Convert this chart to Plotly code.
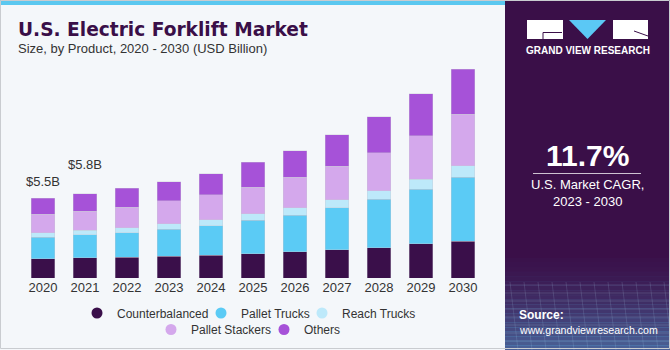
import plotly.graph_objects as go

years = [2020, 2021, 2022, 2023, 2024, 2025, 2026, 2027, 2028, 2029, 2030]
year_labels = [str(y) for y in years]
counterbalanced = [1.34, 1.41, 1.44, 1.51, 1.58, 1.67, 1.81, 1.95, 2.08, 2.36, 2.52]
pallet_trucks   = [1.48, 1.55, 1.69, 1.83, 2.03, 2.29, 2.52, 2.87, 3.35, 3.76, 4.40]
reach_trucks    = [0.31, 0.32, 0.34, 0.39, 0.39, 0.46, 0.52, 0.57, 0.57, 0.69, 0.80]
pallet_stackers = [1.25, 1.31, 1.40, 1.58, 1.72, 1.84, 2.09, 2.29, 2.61, 2.98, 3.55]
others          = [1.12, 1.21, 1.31, 1.33, 1.46, 1.72, 1.83, 2.18, 2.47, 2.89, 3.11]
series_names = ["Counterbalanced", "Pallet Trucks", "Reach Trucks", "Pallet Stackers", "Others"]
series_colors = ["#3A0F4A", "#5BCBF5", "#BDE9FA", "#D4A8EC", "#A652D8"]
value_labels = ["$5.5B", "$5.8B"]
label_heights = [6.63, 7.8]
cagr_text = "11.7%"

W, H = 670, 350
L, R, T, B = 22, 186, 60, 72
PW = W - L - R
PH = H - T - B


def px(x):
    return (x - L) / PW


def py(y):
    return (H - B - y) / PH


def cx(x):
    return x / W


def cy(y):
    return 1 - y / H


fig = go.Figure()
series = [counterbalanced, pallet_trucks, reach_trucks, pallet_stackers, others]
for name, vals, col in zip(series_names, series, series_colors):
    fig.add_trace(go.Bar(
        x=years, y=vals, name=name, marker=dict(color=col, line=dict(color="rgba(200,200,210,0.6)", width=0.6)),
        width=0.57, showlegend=False, hoverinfo="x+y+name"))

# legend entries: one small legend per item, placed where the reference shows them
legend_text_x = [113, 237, 338, 187, 300]
legend_row_y = [313, 313, 313, 329.5, 329.5]
legend_layouts = {}
for i, (name, col) in enumerate(zip(series_names, series_colors)):
    key = "legend" if i == 0 else f"legend{i + 1}"
    fig.add_trace(go.Scatter(
        x=[None], y=[None], mode="markers", name=name,
        marker=dict(color=col, size=11, symbol="circle"), legend=key))
    legend_layouts[key] = dict(
        orientation="h", xref="container", yref="container",
        x=cx(legend_text_x[i] + 4 - 40), xanchor="left", y=cy(legend_row_y[i]), yanchor="middle",
        bgcolor="rgba(0,0,0,0)", font=dict(size=12, color="#333333"), itemwidth=30)

shapes = []
# right panel
shapes.append(dict(type="rect", xref="paper", yref="paper", x0=px(505), x1=px(670), y0=py(350), y1=py(0),
                   fillcolor="#3A0F48", line=dict(width=0), layer="below"))
# gradient at bottom of panel
n = 20
for k in range(n):
    y0 = 258 + k * (92 / n)
    y1 = y0 + 92 / n + 0.5
    a = 0.02 + 0.45 * (k / (n - 1)) ** 1.4
    shapes.append(dict(type="rect", xref="paper", yref="paper", x0=px(505), x1=px(670), y0=py(y1), y1=py(y0),
                       fillcolor=f"rgba(91,190,240,{a:.3f})", line=dict(width=0), layer="below"))
# faint grid lines in bottom area
for k in range(8):
    yy = 285 + k * 8
    shapes.append(dict(type="line", xref="paper", yref="paper", x0=px(505), x1=px(670), y0=py(yy), y1=py(yy),
                       line=dict(color="rgba(180,220,250,0.18)", width=1), layer="below"))
for k in range(12):
    xx = 510 + k * 14
    shapes.append(dict(type="line", xref="paper", yref="paper", x0=px(xx), x1=px(xx + 8), y0=py(282), y1=py(350),
                       line=dict(color="rgba(180,220,250,0.15)", width=1), layer="below"))
# top blue strip
shapes.append(dict(type="rect", xref="paper", yref="paper", x0=px(0), x1=px(505), y0=py(5), y1=py(0),
                   fillcolor="#5BC8F0", line=dict(width=0), layer="below"))
# border
shapes.append(dict(type="rect", xref="paper", yref="paper", x0=px(0.5), x1=px(669.5), y0=py(348.5), y1=py(0.5),
                   line=dict(color="#C9CCD0", width=1), layer="above"))
# logo
shapes.append(dict(type="rect", xref="paper", yref="paper", x0=px(527), x1=px(563), y0=py(39), y1=py(20),
                   fillcolor="white", line=dict(width=0)))
shapes.append(dict(type="path", xref="paper", yref="paper",
                   path=f"M {px(543)} {py(39)} L {px(543)} {py(32.5)} L {px(562)} {py(32.5)}",
                   line=dict(color="#3A0F48", width=1)))
shapes.append(dict(type="path", xref="paper", yref="paper",
                   path=f"M {px(569)} {py(20)} L {px(606)} {py(20)} L {px(587.5)} {py(39)} Z",
                   fillcolor="#5BC8F5", line=dict(width=0)))
shapes.append(dict(type="rect", xref="paper", yref="paper", x0=px(613), x1=px(648), y0=py(39), y1=py(20),
                   fillcolor="white", line=dict(width=0)))
shapes.append(dict(type="line", xref="paper", yref="paper", x0=px(634), x1=px(648), y0=py(31), y1=py(36),
                   line=dict(color="#3A0F48", width=1)))
# line under CAGR
shapes.append(dict(type="line", xref="paper", yref="paper", x0=px(533), x1=px(641), y0=py(173.5), y1=py(173.5),
                   line=dict(color="rgba(255,255,255,0.75)", width=1)))

ann = []
ann.append(dict(text="<b>U.S. Electric Forklift Market</b>", x=px(16), y=py(29), xref="paper", yref="paper",
                xanchor="left", yanchor="middle", showarrow=False,
                font=dict(family="DejaVu Sans", size=18.6, color="#3A0F48")))
ann.append(dict(text="Size, by Product, 2020 - 2030 (USD Billion)", x=px(16), y=py(48.5), xref="paper", yref="paper",
                xanchor="left", yanchor="middle", showarrow=False,
                font=dict(family="Liberation Sans, Arial", size=13, color="#333333")))
for yr, txt, h in zip(years[:2], value_labels, label_heights):
    ann.append(dict(text=txt, x=yr, y=h, xref="x", yref="y", xanchor="center", yanchor="middle", showarrow=False,
                    font=dict(family="Liberation Sans, Arial", size=13, color="#333333")))
ann.append(dict(text="<b>GRAND VIEW RESEARCH</b>", x=px(587.5), y=py(51), xref="paper", yref="paper",
                xanchor="center", yanchor="middle", showarrow=False,
                font=dict(family="Liberation Sans, Arial", size=10, color="white")))
ann.append(dict(text=f"<b>{cagr_text}</b>", x=px(587.5), y=py(155), xref="paper", yref="paper",
                xanchor="center", yanchor="middle", showarrow=False,
                font=dict(family="Liberation Sans, Arial", size=30, color="white")))
ann.append(dict(text="U.S. Market CAGR,<br>2023 - 2030", x=px(587.5), y=py(192.5), xref="paper", yref="paper",
                xanchor="center", yanchor="middle", showarrow=False,
                font=dict(family="Liberation Sans, Arial", size=13, color="white")))
ann.append(dict(text="<b>Source:</b>", x=px(517), y=py(315), xref="paper", yref="paper",
                xanchor="left", yanchor="middle", align="left", showarrow=False,
                font=dict(family="Liberation Sans, Arial", size=12, color="white")))
ann.append(dict(text="www.grandviewresearch.com", x=px(517), y=py(329.5), xref="paper", yref="paper",
                xanchor="left", yanchor="middle", align="left", showarrow=False,
                font=dict(family="Liberation Sans, Arial", size=10.6, color="white")))

fig.update_layout(
    width=W, height=H, margin=dict(l=L, r=R, t=T, b=B, pad=0, autoexpand=False),
    paper_bgcolor="#F4F7FA", plot_bgcolor="#F4F7FA",
    barmode="stack", bargap=0.43,
    font=dict(family="Liberation Sans, Arial", size=12, color="#333333"),
    xaxis=dict(range=[2019.5, 2030.5], tickvals=years, ticktext=year_labels, showgrid=False, zeroline=False,
               showline=False, ticks="", tickfont=dict(size=13, color="#333333"), fixedrange=True),
    yaxis=dict(range=[0, 15], visible=False, fixedrange=True),
    shapes=shapes, annotations=ann,
    **legend_layouts,
)

fig.write_html("out.html", config={"displayModeBar": False})
